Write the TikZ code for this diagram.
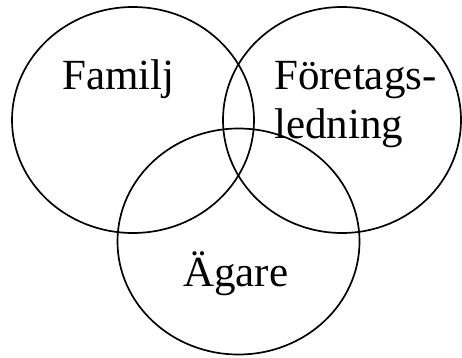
\documentclass[tikz,border=0pt]{standalone}
\usepackage{fontspec}
\setmainfont{Liberation Serif}
\begin{document}
\begin{tikzpicture}[x=1pt,y=1pt,
  ring/.style={draw=black,line width=1.7pt},
  lbl/.style={inner sep=0pt,font=\fontsize{43}{49}\selectfont}]
\useasboundingbox (0,0) rectangle (462,357);
% three overlapping sets
\coordinate (cF) at (133,237);
\coordinate (cL) at (342,237);
\coordinate (cA) at (238.5,115.5);
\draw[ring] (cF) ellipse [x radius=121, y radius=113];
\draw[ring] (cL) ellipse [x radius=119, y radius=113];
\draw[ring] (cA) ellipse [x radius=121, y radius=113];
% labels
\node[lbl,anchor=base west] (famn) at (62,268) {Familj};
\node[lbl,anchor=base west] (foret) at (274,268) {Företags-};
\node[lbl,anchor=base west] (led) at (274,219) {ledning};
\node[lbl,anchor=base west] (agare) at (183,71) {Ägare};
\end{tikzpicture}
\end{document}
